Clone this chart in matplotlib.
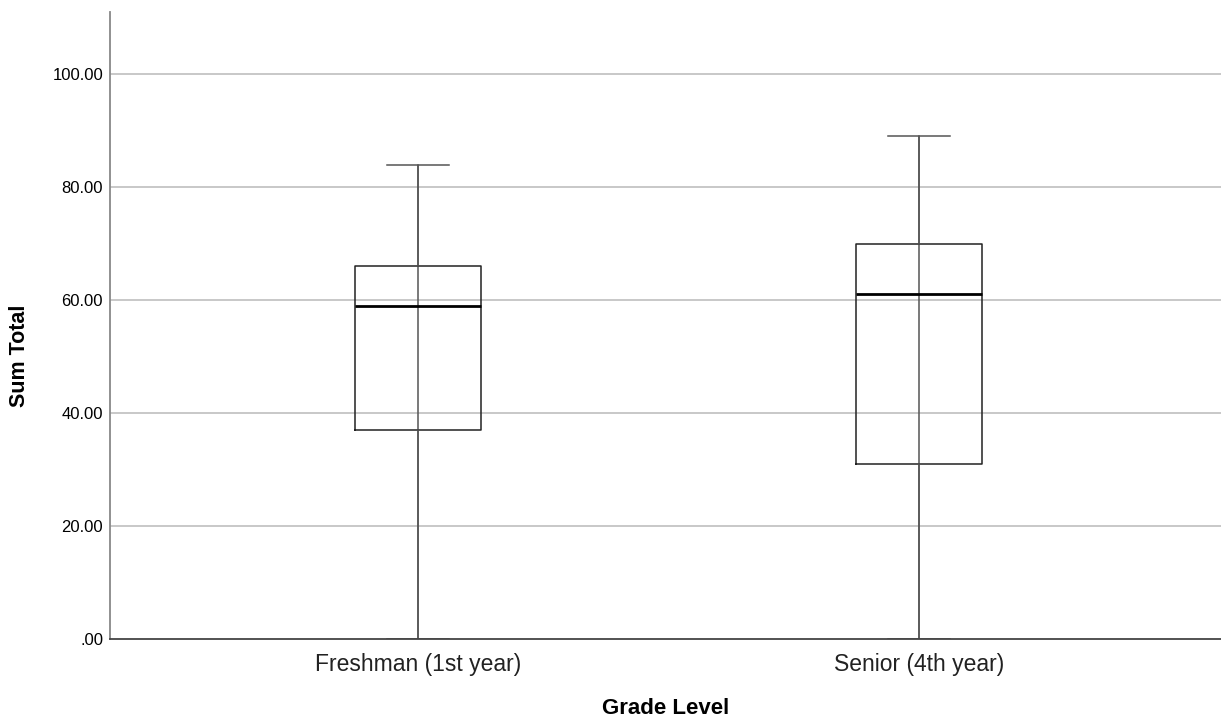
import matplotlib
matplotlib.use("Agg")
import matplotlib.pyplot as plt

plt.rcParams['font.family'] = ['Liberation Sans', 'DejaVu Sans']

categories = ["Freshman (1st year)", "Senior (4th year)"]
whisker_low = [0, 0]
q1 = [37, 31]
median = [59, 61]
q3 = [66, 70]
whisker_high = [84, 89]
y_ticks = [0, 20, 40, 60, 80, 100]
y_tick_labels = [".00", "20.00", "40.00", "60.00", "80.00", "100.00"]

stats = []
for i, c in enumerate(categories):
    stats.append(dict(label=c, whislo=whisker_low[i], q1=q1[i], med=median[i],
                      q3=q3[i], whishi=whisker_high[i], fliers=[]))

fig = plt.figure(figsize=(12.21, 7.21), dpi=100)
ax = fig.add_axes([110/1221, 82/721, 1 - 110/1221, (639-12)/721])

for y in y_ticks[1:]:
    ax.axhline(y, color='#c8c8c8', lw=1.4, zorder=0)

positions = [0, 1]
# whisker line runs through the box
ax.vlines(positions, whisker_low, whisker_high, color='#555555', lw=1.1, zorder=1)

ax.bxp(stats, positions=positions, widths=0.25, capwidths=0.125, showfliers=False,
       boxprops=dict(color='#222222', lw=1.1),
       whiskerprops=dict(color='#555555', lw=1.1),
       capprops=dict(color='#555555', lw=1.1),
       medianprops=dict(color='black', lw=2.0))

ax.set_xlim(-0.615, 1.603)
ax.set_ylim(0, 111)
ax.set_yticks(y_ticks)
ax.set_yticklabels(y_tick_labels, fontsize=12)
ax.set_xticks(positions)
ax.set_xticklabels(categories, fontsize=16.5, color='#222222')
ax.tick_params(axis='both', length=0)
ax.tick_params(axis='y', pad=5)
ax.tick_params(axis='x', pad=10)

for s in ['top', 'right']:
    ax.spines[s].set_visible(False)
ax.spines['left'].set_color('#888888')
ax.spines['left'].set_linewidth(1.3)
ax.spines['bottom'].set_color('#444444')
ax.spines['bottom'].set_linewidth(1.3)

fig.text(666/1221, 1 - 709/721, "Grade Level", fontsize=16, fontweight='bold',
         ha='center', va='center')
fig.text(20/1221, 1 - 356/721, "Sum Total", fontsize=15.5, fontweight='bold',
         ha='center', va='center', rotation=90)

fig.savefig("out.png", dpi=100)
